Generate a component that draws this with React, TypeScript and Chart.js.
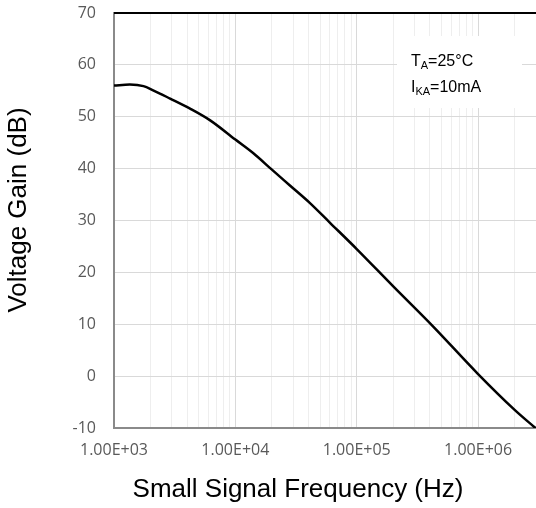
import React, { useEffect, useRef } from 'react';
import { Chart, registerables } from 'chart.js';

Chart.register(...registerables);

// ---- data ----
const frequencies = [1000, 1350, 1750, 2100, 2900, 4200, 6200, 10000, 14000, 20000, 28000, 41000, 60000, 100000, 200000, 425000, 1000000, 2000000, 3000000];
const gainDb = [56.0, 56.2, 55.9, 55.1, 53.5, 51.6, 49.3, 45.6, 43.0, 39.8, 36.8, 33.4, 29.6, 24.5, 17.3, 9.6, 0.4, -6.5, -10.1];
const xMin = 1000;
const xMax = 3000000;
const yMin = -10;
const yMax = 70;
const yStep = 10;
const xTitle = 'Small Signal Frequency (Hz)';
const yTitle = 'Voltage Gain (dB)';
const noteLines = [
  { main: 'T', sub: 'A', rest: '=25°C' },
  { main: 'I', sub: 'KA', rest: '=10mA' },
];

function buildLogTicks(): number[] {
  const out: number[] = [];
  for (let d = xMin; d <= xMax; d *= 10) {
    for (let m = 1; m <= 9; m++) {
      const v = m * d;
      if (v <= xMax * 1.0001) out.push(v);
    }
  }
  return out;
}

function isDecade(v: number): boolean {
  const l = Math.log10(v);
  return Math.abs(l - Math.round(l)) < 1e-9;
}

function formatSci(v: number): string {
  const e = Math.floor(Math.log10(v) + 1e-9);
  const m = v / Math.pow(10, e);
  const es = (e < 0 ? '-' : '+') + String(Math.abs(e)).padStart(2, '0');
  return m.toFixed(2) + 'E' + es;
}

const overlayPlugin = {
  id: 'overlay',
  afterDraw(chart: any) {
    const { ctx, chartArea } = chart;
    ctx.save();
    // top border
    ctx.strokeStyle = '#000000';
    ctx.lineWidth = 2;
    ctx.beginPath();
    ctx.moveTo(chartArea.left, chartArea.top);
    ctx.lineTo(chartArea.right, chartArea.top);
    ctx.stroke();

    // note box
    ctx.fillStyle = '#ffffff';
    ctx.fillRect(397, 36, 125, 72);
    ctx.fillStyle = '#000000';
    ctx.textBaseline = 'alphabetic';
    ctx.textAlign = 'left';
    const baseY = [66, 92];
    noteLines.forEach((ln, i) => {
      let x = 411;
      const y = baseY[i];
      ctx.font = '16px "Liberation Sans", Arial, sans-serif';
      ctx.fillText(ln.main, x, y);
      x += ctx.measureText(ln.main).width;
      ctx.font = '11px "Liberation Sans", Arial, sans-serif';
      ctx.fillText(ln.sub, x, y + 3);
      x += ctx.measureText(ln.sub).width;
      ctx.font = '16px "Liberation Sans", Arial, sans-serif';
      ctx.fillText(ln.rest, x, y);
    });

    // axis titles
    ctx.fillStyle = '#000000';
    ctx.font = '26px "Liberation Sans", Arial, sans-serif';
    ctx.textAlign = 'center';
    ctx.textBaseline = 'middle';
    ctx.fillText(xTitle, 298, 490);
    ctx.translate(19, 210);
    ctx.rotate(-Math.PI / 2);
    ctx.fillText(yTitle, 0, 0);
    ctx.restore();
  },
};

export default function App() {
  const ref = useRef<HTMLCanvasElement | null>(null);

  useEffect(() => {
    if (!ref.current) return;
    const chart = new Chart(ref.current, {
      type: 'line',
      data: {
        datasets: [
          {
            data: frequencies.map((f, i) => ({ x: f, y: gainDb[i] })),
            borderColor: '#000000',
            borderWidth: 2.5,
            pointRadius: 0,
            cubicInterpolationMode: 'monotone',
            fill: false,
          },
        ],
      },
      options: {
        animation: false,
        responsive: false,
        maintainAspectRatio: false,
        layout: { padding: { top: 13, left: 0, right: 0, bottom: 0 } },
        plugins: { legend: { display: false }, tooltip: { enabled: false } },
        scales: {
          x: {
            type: 'logarithmic',
            min: xMin,
            max: xMax,
            afterBuildTicks: (scale: any) => {
              scale.ticks = buildLogTicks().map((v) => ({ value: v }));
            },
            afterFit: (scale: any) => {
              scale.height = 80;
              scale.paddingLeft = 0;
              scale.paddingRight = 0;
            },
            grid: {
              color: (c: any) => (c.tick && isDecade(c.tick.value) ? '#d9d9d9' : '#eeeeee'),
              lineWidth: 1,
              drawTicks: false,
            },
            border: { color: '#8a8a8a', width: 2 },
            ticks: {
              autoSkip: false,
              maxRotation: 0,
              padding: 13,
              color: '#595959',
              font: { family: '"Open Sans", sans-serif', size: 16 },
              callback: (v: any) => (isDecade(Number(v)) ? formatSci(Number(v)) : ''),
            },
          },
          y: {
            type: 'linear',
            min: yMin,
            max: yMax,
            afterFit: (scale: any) => {
              scale.width = 114;
              scale.paddingTop = 0;
              scale.paddingBottom = 0;
            },
            grid: { color: '#d9d9d9', lineWidth: 1, drawTicks: false },
            border: { color: '#8a8a8a', width: 2 },
            ticks: {
              stepSize: yStep,
              padding: 18,
              color: '#595959',
              font: { family: '"Open Sans", sans-serif', size: 16 },
            },
          },
        },
      },
      plugins: [overlayPlugin],
    });
    return () => chart.destroy();
  }, []);

  return (
    <div style={{ position: 'absolute', left: 0, top: 0, width: 536, height: 508, background: '#ffffff' }}>
      <canvas ref={ref} width={536} height={508} style={{ display: 'block' }} />
    </div>
  );
}
